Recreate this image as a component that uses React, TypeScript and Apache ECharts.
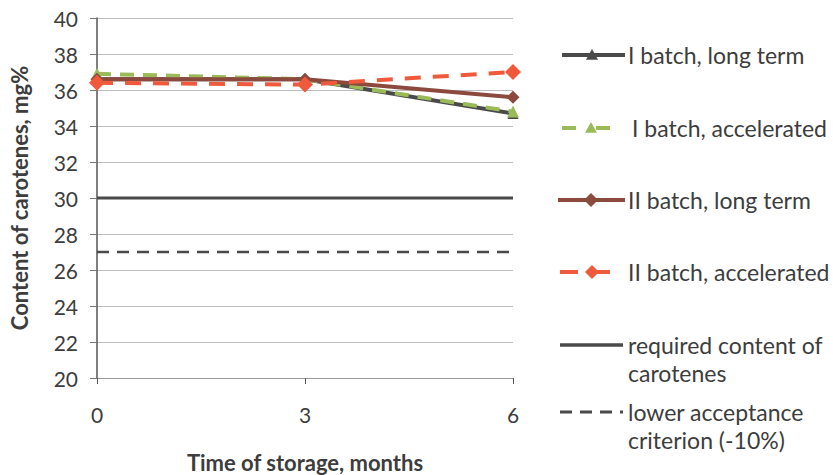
import React, { useEffect, useRef } from "react";
import * as echarts from "echarts";

// Storage time points (months)
const months = [0, 3, 6];

// Carotene content, mg%
const batch1Long = [36.6, 36.6, 34.7];
const batch1Accel = [36.9, 36.6, 34.8];
const batch2Long = [36.6, 36.6, 35.6];
const batch2Accel = [36.4, 36.3, 37.0];

// Reference levels
const requiredContent = 30;
const lowerCriterion = 27;

const seriesNames = [
  "I batch, long term",
  "I batch, accelerated",
  "II batch, long term",
  "II batch, accelerated",
  "required content of carotenes",
  "lower acceptance criterion (-10%)",
];

const FONT = "Lato, 'Open Sans', sans-serif";
const TEXT = "#3d3d3d";
const DARK = "#4a4a4a";
const GREEN = "#9bbb59";
const BROWN = "#8c4a3e";
const ORANGE = "#f05a3c";
const LEGEND_FONT = `23px ${FONT}`;

const pair = (vals: number[]) => months.map((m, i) => [m, vals[i]]);

function tri(cx: number, cy: number, r: number, color: string) {
  return {
    type: "polygon",
    shape: { points: [[cx, cy - r], [cx + r, cy + r * 0.8], [cx - r, cy + r * 0.8]] },
    style: { fill: color },
  };
}
function diamond(cx: number, cy: number, r: number, color: string) {
  return {
    type: "polygon",
    shape: { points: [[cx, cy - r], [cx + r, cy], [cx, cy + r], [cx - r, cy]] },
    style: { fill: color },
  };
}
function seg(x1: number, x2: number, y: number, color: string, w: number, dash?: number[]) {
  return {
    type: "line",
    shape: { x1, y1: y, x2, y2: y },
    style: { stroke: color, lineWidth: w, lineDash: dash },
  };
}
function label(x: number, y: number, text: string) {
  return {
    type: "text",
    x,
    y,
    style: { text, fill: TEXT, font: LEGEND_FONT, verticalAlign: "middle" },
  };
}
function label2(x: number, yFirst: number, text: string) {
  return {
    type: "text",
    x,
    y: yFirst - 14,
    style: { text, fill: TEXT, font: LEGEND_FONT, lineHeight: 28 },
  };
}

export default function App() {
  const ref = useRef<HTMLDivElement>(null);

  useEffect(() => {
    document.body.style.margin = "0";
    const chart = echarts.init(ref.current!, null, { renderer: "svg" });

    const legendGraphics: any[] = [
      seg(562, 625, 55, DARK, 4),
      tri(592, 55, 6, DARK),
      label(628, 55, seriesNames[0]),

      seg(562, 576, 128, GREEN, 4),
      tri(591, 128, 6, GREEN),
      seg(596, 610, 128, GREEN, 4),
      label(632, 128, seriesNames[1]),

      seg(558, 625, 200, BROWN, 4),
      diamond(591, 200, 7, BROWN),
      label(628, 200, seriesNames[2]),

      seg(560, 578, 272, ORANGE, 4),
      diamond(592, 272, 7, ORANGE),
      seg(596, 610, 272, ORANGE, 4),
      label(628, 272, seriesNames[3]),

      seg(560, 623, 345, DARK, 3.5),
      label2(628, 345, "required content of\ncarotenes"),

      seg(560, 623, 412, DARK, 3, [12, 8]),
      label2(628, 412, "lower acceptance\ncriterion (-10%)"),
    ];

    chart.setOption({
      animation: false,
      backgroundColor: "#ffffff",
      textStyle: { fontFamily: FONT },
      grid: { left: 97, right: 320, top: 18, bottom: 97, outerBoundsMode: "none", containLabel: false },
      xAxis: {
        type: "value",
        min: 0,
        max: 6,
        interval: 3,
        name: "Time of storage, months",
        nameLocation: "middle",
        nameGap: 73,
        nameTextStyle: { fontSize: 22, fontWeight: "bold", color: TEXT, fontFamily: FONT },
        axisLine: { show: true, lineStyle: { color: "#9a9a9a", width: 1 } },
        axisTick: { show: true, length: 6, lineStyle: { color: "#555" } },
        axisLabel: { fontSize: 21, color: TEXT, margin: 26, fontFamily: FONT },
        splitLine: { show: false },
      },
      yAxis: {
        type: "value",
        min: 20,
        max: 40,
        interval: 2,
        name: "Content of carotenes, mg%",
        nameLocation: "middle",
        nameGap: 67,
        nameTextStyle: { fontSize: 22, fontWeight: "bold", color: TEXT, fontFamily: FONT },
        axisLine: { show: true, lineStyle: { color: "#555", width: 1.5 } },
        axisTick: { show: true, length: 7, lineStyle: { color: "#777" } },
        axisLabel: { fontSize: 21, color: TEXT, margin: 19, fontFamily: FONT },
        splitLine: { show: true, lineStyle: { color: "#bdbdbd", width: 1 } },
      },
      graphic: legendGraphics,
      series: [
        {
          name: seriesNames[4],
          type: "line",
          data: pair(months.map(() => requiredContent)),
          symbol: "none",
          lineStyle: { color: DARK, width: 3 },
          z: 1,
        },
        {
          name: seriesNames[5],
          type: "line",
          data: pair(months.map(() => lowerCriterion)),
          symbol: "none",
          lineStyle: { color: DARK, width: 2.5, type: [12, 8] },
          z: 1,
        },
        {
          name: seriesNames[0],
          type: "line",
          data: pair(batch1Long),
          symbol: "triangle",
          symbolSize: 11,
          lineStyle: { color: DARK, width: 4 },
          itemStyle: { color: DARK },
        },
        {
          name: seriesNames[1],
          type: "line",
          data: pair(batch1Accel),
          symbol: "triangle",
          symbolSize: 12,
          lineStyle: { color: GREEN, width: 4, type: [14, 9] },
          itemStyle: { color: GREEN },
        },
        {
          name: seriesNames[2],
          type: "line",
          data: pair(batch2Long),
          symbol: "diamond",
          symbolSize: 13,
          lineStyle: { color: BROWN, width: 4 },
          itemStyle: { color: BROWN },
        },
        {
          name: seriesNames[3],
          type: "line",
          data: pair(batch2Accel),
          symbol: "diamond",
          symbolSize: 16,
          lineStyle: { color: ORANGE, width: 4, type: [16, 12] },
          itemStyle: { color: ORANGE },
        },
      ],
    });

    return () => chart.dispose();
  }, []);

  return <div ref={ref} style={{ width: 833, height: 475 }} />;
}
